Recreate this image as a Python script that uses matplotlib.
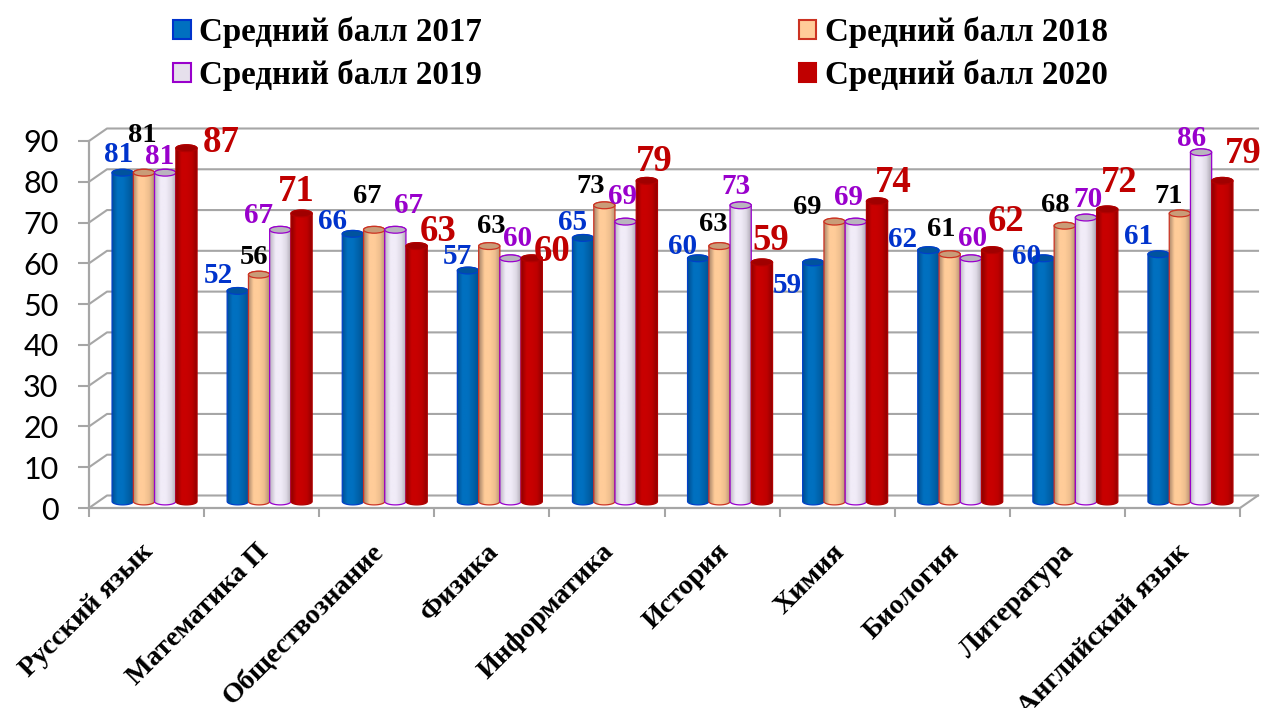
import numpy as np
import matplotlib
matplotlib.use('Agg')
import matplotlib.pyplot as plt
from matplotlib.colors import LinearSegmentedColormap
from matplotlib.patches import Ellipse, PathPatch, Patch
from matplotlib.path import Path
from matplotlib.transforms import ScaledTranslation

categories = ['Русский язык', 'Математика П', 'Обществознание', 'Физика', 'Информатика',
              'История', 'Химия', 'Биология', 'Литература', 'Английский язык']
scores_2017 = [81, 52, 66, 57, 65, 60, 59, 62, 60, 61]
scores_2018 = [81, 56, 67, 63, 73, 63, 69, 61, 68, 71]
scores_2019 = [81, 67, 67, 60, 69, 73, 69, 60, 70, 86]
scores_2020 = [87, 71, 63, 60, 79, 59, 74, 62, 72, 79]
series_names = ['Средний балл 2017', 'Средний балл 2018', 'Средний балл 2019', 'Средний балл 2020']
y_ticks = [0, 10, 20, 30, 40, 50, 60, 70, 80, 90]

# label nudges from the top of each bar, in pixels
nudge_x = [[-4, -19, -20, -11, -10, -16, -26, -26, -17, -20],
           [-2, -5, -7, 2, -14, -6, -27, -8, -9, -11],
           [-6, -22, 13, 7, -3, -5, -7, 2, 2, -9],
           [35, -5, 21, 20, 7, 9, 16, 14, 12, 21]]
nudge_y = [[21, 18, 15, 17, 18, 15, -20, 14, 5, 21],
           [40, 20, 36, 23, 22, 25, 17, 28, 23, 20],
           [19, 17, 27, 23, 28, 22, 27, 23, 21, 17],
           [10, 26, 19, 11, 23, 26, 23, 33, 31, 31]]

body_colors = [['#004F94', '#0070C0', '#0070C0', '#0062AA', '#00508F'],
               ['#A9866A', '#FFCC99', '#FFCC99', '#EDBD8E', '#B08D70'],
               ['#BDB7C4', '#F1ECF8', '#F1ECF8', '#DDD8E4', '#A8A3AE'],
               ['#8E0000', '#C80000', '#C80000', '#BC0000', '#8A0000']]
edge_colors = ['#0040C8', '#CC3322', '#9900CC', '#B00000']
cap_colors = ['#00539E', '#C99C78', '#B9B4BE', '#A00000']
label_colors = ['#0033CC', '#000000', '#9900CC', '#C00000']
label_sizes = [21, 20.5, 21, 26.5]
legend_colors = ['#0070C0', '#FFCC99', '#E6E0EC', '#C00000']
legend_edges = ['#0033CC', '#CC3322', '#9900CC', '#C00000']
grid_color = '#A6A6A6'

SERIF = 'Liberation Serif'

fig = plt.figure(figsize=(12.63, 7.08), dpi=100)
ax = fig.add_axes([89 / 1263, 1 - 508 / 708, 1151 / 1263, 367 / 708])
ax.set_xlim(0, 10)
ax.set_ylim(0, 90)

# pixel sizes turned into data units
px_x = 10 / 1151
px_y = 90 / 367
depth_x, depth_y = 18 * px_x, 12.5 * px_y
shift_x, shift_y = 8 * px_x, 5 * px_y
bar_w = 21.2 * px_x
cap_h = 3.4 * px_y


def draw_wall():
    for v in y_ticks:
        ax.plot([0, depth_x, 10 + depth_x], [v, v + depth_y, v + depth_y],
                color=grid_color, lw=1.5, clip_on=False, zorder=1)
    ax.plot([10, 10 + depth_x], [0, depth_y], color=grid_color, lw=1.5, clip_on=False, zorder=1)


def draw_cylinder(x, value, s, z):
    cmap = LinearSegmentedColormap.from_list('bar', body_colors[s])
    shade = np.linspace(0, 1, 64).reshape(1, -1)
    left, right = x - bar_w / 2, x + bar_w / 2
    base, top = shift_y + 1.5 * px_y, value + shift_y

    t = np.linspace(np.pi, 2 * np.pi, 24)
    low = np.column_stack([x + bar_w / 2 * np.cos(t), base + cap_h * np.sin(t)])
    t = np.linspace(0, np.pi, 24)
    high = np.column_stack([x + bar_w / 2 * np.cos(t), top + cap_h * np.sin(t)])
    body = PathPatch(Path(np.vstack([low, high, low[:1]]), closed=True), facecolor='none',
                     edgecolor=edge_colors[s], lw=0.9, clip_on=False, zorder=z + 0.2)
    ax.add_patch(body)

    im = ax.imshow(shade, cmap=cmap, aspect='auto', extent=[left, right, base - cap_h, top + cap_h],
                   zorder=z, interpolation='bilinear')
    im.set_clip_path(body)

    ax.add_patch(Ellipse((x, top), bar_w, 2 * cap_h, facecolor=cap_colors[s],
                         edgecolor=edge_colors[s], lw=0.9, clip_on=False, zorder=z + 0.3))


draw_wall()

all_scores = [scores_2017, scores_2018, scores_2019, scores_2020]
offsets = [-31.9, -10.6, 10.6, 31.9]
for i in range(len(categories)):
    for s, scores in enumerate(all_scores):
        x = i + 0.5 + shift_x + offsets[s] * px_x
        draw_cylinder(x, scores[i], s, 3 + s * 0.5 + i)

for s, scores in enumerate(all_scores):
    for i, v in enumerate(scores):
        x = i + 0.5 + shift_x + offsets[s] * px_x
        ax.annotate(str(v), (x, v + shift_y), xytext=(nudge_x[s][i], nudge_y[s][i]),
                    textcoords='offset pixels', ha='center', va='center_baseline',
                    color=label_colors[s], fontsize=label_sizes[s], fontweight='bold',
                    family=SERIF, zorder=50, annotation_clip=False)

ax.set_xlim(0, 10)
ax.set_ylim(0, 90)

for side in ['top', 'right']:
    ax.spines[side].set_visible(False)
for side in ['left', 'bottom']:
    ax.spines[side].set_color(grid_color)
    ax.spines[side].set_linewidth(1.6)

ax.set_yticks(y_ticks)
ax.tick_params(axis='y', direction='out', length=8, width=1.5, color=grid_color, pad=14,
               labelsize=22)
for lab in ax.get_yticklabels():
    lab.set_family('Lato')

# ticks sit on the category boundaries, names in the middle
ax.set_xticks(np.arange(0, 11), minor=True)
ax.set_xticks(np.arange(len(categories)) + 0.5)
ax.set_xticklabels(categories, rotation=45, ha='right', va='top', rotation_mode='anchor',
                   family=SERIF, fontweight='bold', fontsize=20.3)
ax.tick_params(axis='x', which='minor', direction='out', length=6.5, width=1.5, color=grid_color)
ax.tick_params(axis='x', which='major', length=0, pad=22.5)
nudge_left = ScaledTranslation(-4 / 72, 0, fig.dpi_scale_trans)
for lab in ax.get_xticklabels():
    lab.set_transform(lab.get_transform() + nudge_left)

order = [0, 2, 1, 3]
handles = [Patch(facecolor=legend_colors[k], edgecolor=legend_edges[k], lw=1.5) for k in order]
labels = [series_names[k] for k in order]
fig.legend(handles, labels, ncol=2, loc='upper left', bbox_to_anchor=(147 / 1263, 1 + 9.5 / 708),
           frameon=False, prop={'family': SERIF, 'weight': 'bold', 'size': 23.75},
           handlelength=0.52, handleheight=0.52, handletextpad=0.26, columnspacing=9.62,
           labelspacing=0.34, borderaxespad=0.4)

fig.savefig('out.png', dpi=100)
